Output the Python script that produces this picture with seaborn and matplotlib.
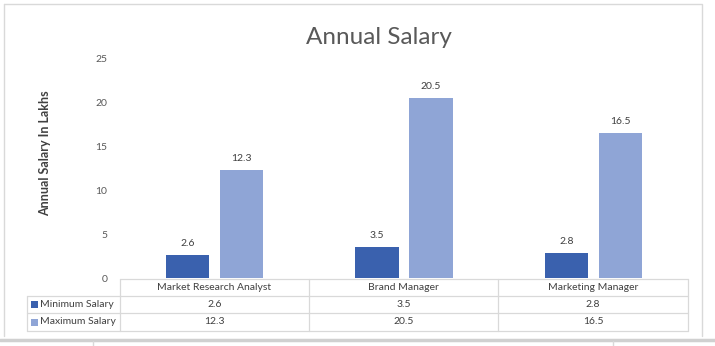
import matplotlib
matplotlib.use("Agg")
import matplotlib.pyplot as plt
import seaborn as sns
import pandas as pd
from matplotlib.lines import Line2D
from matplotlib.patches import Rectangle

categories = ["Market Research Analyst", "Brand Manager", "Marketing Manager"]
series_names = ["Minimum Salary", "Maximum Salary"]
min_salary = [2.6, 3.5, 2.8]
max_salary = [12.3, 20.5, 16.5]
y_ticks = [0, 5, 10, 15, 20, 25]
title = "Annual Salary"
y_label = "Annual Salary In Lakhs"
colors = ["#3A61AE", "#8FA5D6"]

df = pd.DataFrame({
    "category": categories * 2,
    "series": [series_names[0]] * 3 + [series_names[1]] * 3,
    "value": min_salary + max_salary,
})

sns.set_theme(style="white")
plt.rcParams["font.family"] = ["Lato", "DejaVu Sans"]

W, H = 715, 346
fig = plt.figure(figsize=(W / 100, H / 100), dpi=100)
fig.patch.set_facecolor("white")

def fx(px):
    return px / W

def fy(py):
    return 1 - py / H

ax_left, ax_right, ax_top, ax_bot = 120, 688, 58, 278
ax = fig.add_axes([fx(ax_left), fy(ax_bot), fx(ax_right - ax_left), (ax_bot - ax_top) / H])

sns.barplot(data=df, x="category", y="value", hue="series", order=categories,
            hue_order=series_names, palette=colors, width=0.57, gap=0.2,
            saturation=1, linewidth=0, ax=ax, legend=False)

ax.set_ylim(0, 25)
ax.set_xlim(-0.5, 2.5)
ax.set_yticks(y_ticks)
ax.set_yticklabels([str(t) for t in y_ticks], color="#595959", fontsize=7.5)
ax.tick_params(axis="y", length=0, pad=9)
ax.set_xticks([])
ax.set_xlabel("")
ax.set_ylabel("")
for s in ax.spines.values():
    s.set_visible(False)
ax.grid(False)

for cont in ax.containers:
    for bar in cont:
        h = bar.get_height()
        ax.annotate(f"{h:.1f}", (bar.get_x() + bar.get_width() / 2, h),
                    xytext=(0, 5), textcoords="offset points",
                    ha="center", va="bottom", fontsize=7.5, color="#404040")

# Y label
fig.text(fx(45), fy(153), y_label, rotation=90, ha="center", va="center",
         fontsize=9, fontweight="bold", color="#404040")
# Title
fig.text(fx(379), fy(37), title, ha="center", va="center",
         fontsize=17.5, color="#595959")

# Data table
grid_c = "#D9D9D9"
col_x = [120, 309, 498, 688]
rows_y = [279, 296, 313, 331]
lw = 0.9
fig.add_artist(Line2D([fx(120), fx(688)], [fy(279), fy(279)], color=grid_c, lw=lw))
for yy in rows_y[1:]:
    fig.add_artist(Line2D([fx(27), fx(688)], [fy(yy), fy(yy)], color=grid_c, lw=lw))
for xx in col_x:
    fig.add_artist(Line2D([fx(xx), fx(xx)], [fy(279), fy(331)], color=grid_c, lw=lw))
fig.add_artist(Line2D([fx(27), fx(27)], [fy(296), fy(331)], color=grid_c, lw=lw))

for i, cat in enumerate(categories):
    cx = (col_x[i] + col_x[i + 1]) / 2
    fig.text(fx(cx), fy(287.5), cat, ha="center", va="center", fontsize=7.5, color="#404040")
    fig.text(fx(cx), fy(304.5), f"{min_salary[i]:.1f}", ha="center", va="center", fontsize=7.5, color="#404040")
    fig.text(fx(cx), fy(322), f"{max_salary[i]:.1f}", ha="center", va="center", fontsize=7.5, color="#404040")

for j, (name, c) in enumerate(zip(series_names, colors)):
    yc = (rows_y[j + 1] + rows_y[j + 2]) / 2
    fig.add_artist(Rectangle((fx(31), fy(yc + 3.5)), 7 / W, 7 / H, color=c, lw=0))
    fig.text(fx(40), fy(yc), name, ha="left", va="center", fontsize=7.5, color="#404040")

# Outer frame
frame_c = "#D9D9D9"
fig.add_artist(Line2D([fx(4), fx(702), fx(702)], [fy(4), fy(4), fy(336)], color=frame_c, lw=1))
fig.add_artist(Line2D([fx(4), fx(4)], [fy(4), fy(336)], color=frame_c, lw=1))
# spreadsheet remnants below
fig.add_artist(Line2D([0, fx(715)], [fy(340), fy(340)], color="#D0D0D0", lw=2.5))
fig.add_artist(Line2D([fx(93), fx(93)], [fy(341), 0], color=frame_c, lw=1))
fig.add_artist(Line2D([fx(613), fx(613)], [fy(341), 0], color=frame_c, lw=1))

fig.savefig("out.png", dpi=100, facecolor="white")
